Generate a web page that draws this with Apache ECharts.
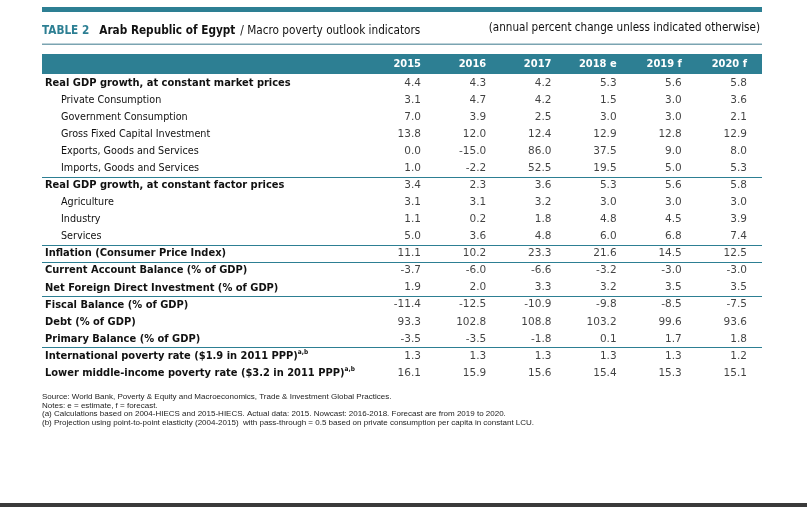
<!DOCTYPE html>
<html><head><meta charset="utf-8">
<script src="https://cdn.jsdelivr.net/npm/echarts@6/dist/echarts.min.js"></script>
<style>html,body{margin:0;padding:0;background:#fff}#c{width:807px;height:507px}</style>
</head><body><div id="c"></div>
<script>
// ---- data ----
const years = ['2015', '2016', '2017', '2018 e', '2019 f', '2020 f'];
const rowLabels = [
  'Real GDP growth, at constant market prices',
  'Private Consumption',
  'Government Consumption',
  'Gross Fixed Capital Investment',
  'Exports, Goods and Services',
  'Imports, Goods and Services',
  'Real GDP growth, at constant factor prices',
  'Agriculture',
  'Industry',
  'Services',
  'Inflation (Consumer Price Index)',
  'Current Account Balance (% of GDP)',
  'Net Foreign Direct Investment (% of GDP)',
  'Fiscal Balance (% of GDP)',
  'Debt (% of GDP)',
  'Primary Balance (% of GDP)',
  'International poverty rate ($1.9 in 2011 PPP)',
  'Lower middle-income poverty rate ($3.2 in 2011 PPP)'
];
const rowLevel = [0,1,1,1,1,1,0,1,1,1,0,0,0,0,0,0,0,0];
const rowNote  = ['','','','','','','','','','','','','','','','','a,b','a,b'];
const groupStarts = [6, 10, 11, 13, 16];
const v2015 = [4.4, 3.1, 7.0, 13.8, 0.0, 1.0, 3.4, 3.1, 1.1, 5.0, 11.1, -3.7, 1.9, -11.4, 93.3, -3.5, 1.3, 16.1];
const v2016 = [4.3, 4.7, 3.9, 12.0, -15.0, -2.2, 2.3, 3.1, 0.2, 3.6, 10.2, -6.0, 2.0, -12.5, 102.8, -3.5, 1.3, 15.9];
const v2017 = [4.2, 4.2, 2.5, 12.4, 86.0, 52.5, 3.6, 3.2, 1.8, 4.8, 23.3, -6.6, 3.3, -10.9, 108.8, -1.8, 1.3, 15.6];
const v2018 = [5.3, 1.5, 3.0, 12.9, 37.5, 19.5, 5.3, 3.0, 4.8, 6.0, 21.6, -3.2, 3.2, -9.8, 103.2, 0.1, 1.3, 15.4];
const v2019 = [5.6, 3.0, 3.0, 12.8, 9.0, 5.0, 5.6, 3.0, 4.5, 6.8, 14.5, -3.0, 3.5, -8.5, 99.6, 1.7, 1.3, 15.3];
const v2020 = [5.8, 3.6, 2.1, 12.9, 8.0, 5.3, 5.8, 3.0, 3.9, 7.4, 12.5, -3.0, 3.5, -7.5, 93.6, 1.8, 1.2, 15.1];
const titleParts = ['TABLE 2', 'Arab Republic of Egypt', '/ Macro poverty outlook indicators'];
const subtitle = '(annual percent change unless indicated otherwise)';
const notes = [
  'Source: World Bank, Poverty & Equity and Macroeconomics, Trade & Investment Global Practices.',
  'Notes: e = estimate, f = forecast.',
  '(a) Calculations based on 2004-HIECS and 2015-HIECS. Actual data: 2015. Nowcast: 2016-2018. Forecast are from 2019 to 2020.',
  '(b) Projection using point-to-point elasticity (2004-2015)  with pass-through = 0.5 based on private consumption per capita in constant LCU.'
];

// ---- build ----
const columns = [v2015, v2016, v2017, v2018, v2019, v2020];
const cells = [];
columns.forEach((col, c) => col.forEach((v, r) => cells.push([c, r, v])));

const TEAL = '#2d7f93';
const F = "'DejaVu Sans Condensed','DejaVu Sans',sans-serif";
const FN = "'DejaVu Sans',sans-serif";
const TXT = '#111';
const GRID_TOP = 74.5, GRID_BOTTOM = 507 - 381.5;

const chart = echarts.init(document.getElementById('c'), null, {renderer: 'canvas'});
chart.setOption({
  animation: false,
  backgroundColor: '#fff',
  title: [
    {
      left: 42, top: 22, padding: 0,
      text: '{t|' + titleParts[0] + '}  {b|' + titleParts[1] + '} {n|' + titleParts[2] + '}',
      textStyle: {
        rich: {
          t: {fontFamily: F, fontSize: 11.7, fontWeight: 'bold', color: TEAL},
          b: {fontFamily: F, fontSize: 11.7, fontWeight: 'bold', color: TXT},
          n: {fontFamily: F, fontSize: 11.7, fontWeight: 'normal', color: TXT}
        }
      }
    },
    {
      right: 47, top: 22, padding: 0,
      text: subtitle,
      textStyle: {fontFamily: F, fontSize: 11.6, fontWeight: 'normal', color: TXT}
    },
    {
      left: 42, top: 392.5, padding: 0,
      text: notes.join('\n'),
      textStyle: {fontFamily: "'Liberation Sans', Arial, sans-serif", fontSize: 8, lineHeight: 8.7, fontWeight: 'normal', color: '#222'}
    }
  ],
  graphic: [
    {type: 'rect', shape: {x: 42, y: 7, width: 720, height: 5}, style: {fill: TEAL}, silent: true},
    {type: 'rect', shape: {x: 42, y: 43.5, width: 720, height: 1.5}, style: {fill: '#7ba4b1'}, silent: true},
    {type: 'rect', shape: {x: 0, y: 503, width: 807, height: 4}, style: {fill: '#3a3a3a'}, silent: true}
  ],
  grid: [
    {left: 42, right: 45, top: GRID_TOP, bottom: GRID_BOTTOM, containLabel: false},
    {left: 421, right: 807 - 747, top: GRID_TOP, bottom: GRID_BOTTOM, containLabel: false}
  ],
  xAxis: [
    {
      gridIndex: 0, type: 'value', position: 'top', offset: 10.5, min: 0, max: 1,
      axisLine: {show: true, onZero: false, lineStyle: {color: TEAL, width: 20, cap: 'butt'}},
      axisTick: {show: false}, axisLabel: {show: false}, splitLine: {show: false}
    },
    {
      gridIndex: 1, type: 'category', data: years, boundaryGap: false, position: 'top', offset: 10.5,
      axisLine: {show: false}, axisTick: {show: false}, splitLine: {show: false},
      axisLabel: {interval: 0, margin: 0, color: '#fff', fontWeight: 'bold', fontFamily: F, fontSize: 11,
        align: 'right', verticalAlign: 'middle'}
    }
  ],
  yAxis: [
    {
      gridIndex: 0, type: 'category', data: rowLabels, inverse: true,
      axisLine: {show: false}, axisTick: {show: false},
      axisLabel: {
        inside: true, margin: 3, interval: 0, align: 'left',
        formatter: (v, i) => {
          const note = rowNote[i] ? '{s|' + rowNote[i] + '}' : '';
          return rowLevel[i] ? '{n|' + v + '}' : '{b|' + v + '}' + note;
        },
        rich: {
          b: {fontFamily: F, fontSize: 11, fontWeight: 'bold', color: TXT, height: 14},
          n: {fontFamily: F, fontSize: 10.7, fontWeight: 'normal', color: TXT, padding: [0, 0, 0, 16], height: 14},
          s: {fontFamily: F, fontSize: 6.5, fontWeight: 'bold', color: TXT, verticalAlign: 'top'}
        }
      },
      splitLine: {show: true, showMaxLine: false,
        interval: (i) => groupStarts.includes(i), lineStyle: {color: TEAL, width: 1}}
    },
    {gridIndex: 1, type: 'category', data: rowLabels, inverse: true, show: false}
  ],
  series: [{
    type: 'scatter', xAxisIndex: 1, yAxisIndex: 1, symbolSize: 0, silent: true,
    data: cells,
    label: {
      show: true, position: 'inside', align: 'right', verticalAlign: 'middle',
      fontFamily: FN, fontSize: 10.5, color: TXT,
      formatter: (p) => p.value[2].toFixed(1)
    }
  }]
});
</script></body></html>
